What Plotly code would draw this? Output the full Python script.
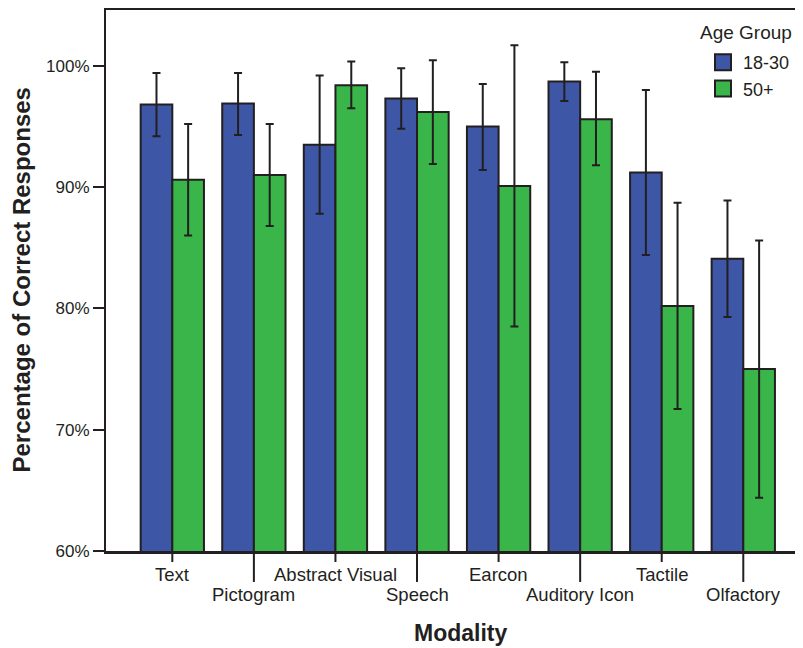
import plotly.graph_objects as go

categories = ["Text", "Pictogram", "Abstract Visual", "Speech", "Earcon",
              "Auditory Icon", "Tactile", "Olfactory"]
young = [96.8, 96.9, 93.5, 97.3, 95.0, 98.7, 91.2, 84.1]
young_hi = [99.4, 99.4, 99.2, 99.8, 98.5, 100.3, 98.0, 88.9]
young_lo = [94.2, 94.3, 87.8, 94.8, 91.4, 97.1, 84.4, 79.3]
old = [90.6, 91.0, 98.4, 96.2, 90.1, 95.6, 80.2, 75.0]
old_hi = [95.2, 95.2, 100.35, 100.45, 101.7, 99.5, 88.7, 85.6]
old_lo = [86.0, 86.8, 96.5, 91.9, 78.5, 91.8, 71.7, 64.4]
y_ticks = [60, 70, 80, 90, 100]
y_tick_labels = ["60%", "70%", "80%", "90%", "100%"]
groups = ["18-30", "50+"]
group_colors = ["#3d56a6", "#39b54a"]
legend_title = "Age Group"

INK = "#231f20"
FONT = "Liberation Sans, Arial, Helvetica, sans-serif"

# the page body adds an 8px offset; the figure is sized so the plot lands
# where the reference has it in the 803x648 window
OFF = 8
W, H = 803 - OFF, 648 - OFF
ml, mr, mt, mb = 106 - OFF, 0, 10 - OFF, 96.5
plot_w = W - ml - mr
plot_h = H - mt - mb


def px_x(page_x):
    return (page_x - 106) / plot_w


def px_y(page_y):
    return 1 - (page_y - 10) / plot_h


def err(vals, hi, lo):
    return dict(type="data", symmetric=False,
                array=[h - v for v, h in zip(vals, hi)],
                arrayminus=[v - l for v, l in zip(vals, lo)],
                color=INK, thickness=2, width=4)


fig = go.Figure()
for name, color, vals, hi, lo in [(groups[0], group_colors[0], young, young_hi, young_lo),
                                  (groups[1], group_colors[1], old, old_hi, old_lo)]:
    fig.add_trace(go.Bar(name=name, x=categories, y=vals, showlegend=False,
                         marker=dict(color=color, line=dict(color=INK, width=2)),
                         error_y=err(vals, hi, lo)))
    # legend entry with a larger square swatch
    fig.add_trace(go.Scatter(name=name, x=[None], y=[None], mode="markers",
                             marker=dict(symbol="square", size=16, color=color,
                                         line=dict(color=INK, width=2))))

shapes = []
annotations = []
for i, c in enumerate(categories):
    long_tick = i % 2 == 1
    tick_len = 31 if long_tick else 11
    shapes.append(dict(type="line", xref="x", yref="paper", x0=c, x1=c,
                       y0=0, y1=-tick_len / plot_h,
                       line=dict(color=INK, width=2)))
    annotations.append(dict(xref="x", yref="paper", x=c, y=0, yanchor="top",
                            yshift=-11 if not long_tick else -31, showarrow=False,
                            text=c, font=dict(size=18.5, color=INK, family=FONT)))

annotations.append(dict(xref="paper", yref="paper", x=px_x(460),
                        y=0, yanchor="middle", yshift=-(633 - 551.5),
                        showarrow=False, text="<b>Modality</b>",
                        font=dict(size=23, color=INK, family=FONT)))
annotations.append(dict(xref="paper", yref="paper", x=px_x(21),
                        y=0.5, xanchor="center", yanchor="middle", textangle=-90,
                        showarrow=False, text="<b>Percentage of Correct Responses</b>",
                        font=dict(size=24, color=INK, family=FONT)))
annotations.append(dict(xref="paper", yref="paper", x=px_x(698), y=px_y(33),
                        xanchor="left", yanchor="middle", showarrow=False,
                        text=legend_title, font=dict(size=19, color=INK, family=FONT)))

fig.update_layout(
    width=W, height=H,
    margin=dict(l=ml, r=mr, t=mt, b=mb, pad=0, autoexpand=False),
    paper_bgcolor="white", plot_bgcolor="white",
    barmode="group", bargap=0.224, bargroupgap=0,
    font=dict(family=FONT, color=INK),
    showlegend=True,
    legend=dict(font=dict(size=18, color=INK), itemsizing="trace",
                x=px_x(703), xanchor="left",
                y=px_y(44), yanchor="top", bgcolor="rgba(0,0,0,0)",
                tracegroupgap=0),
    xaxis=dict(type="category", range=[-0.813, 7.732], showline=True,
               linecolor=INK, linewidth=2.5, mirror=True, ticks="",
               showticklabels=False, showgrid=False, zeroline=False,
               fixedrange=True),
    yaxis=dict(range=[60, 104.6], tickvals=y_ticks, ticktext=y_tick_labels,
               showline=True, linecolor=INK, linewidth=2, ticks="outside",
               ticklen=11, tickwidth=1.5, tickcolor=INK,
               tickfont=dict(size=17, color=INK), showgrid=False,
               zeroline=False),
    shapes=shapes, annotations=annotations,
)

fig.write_html("out.html")
